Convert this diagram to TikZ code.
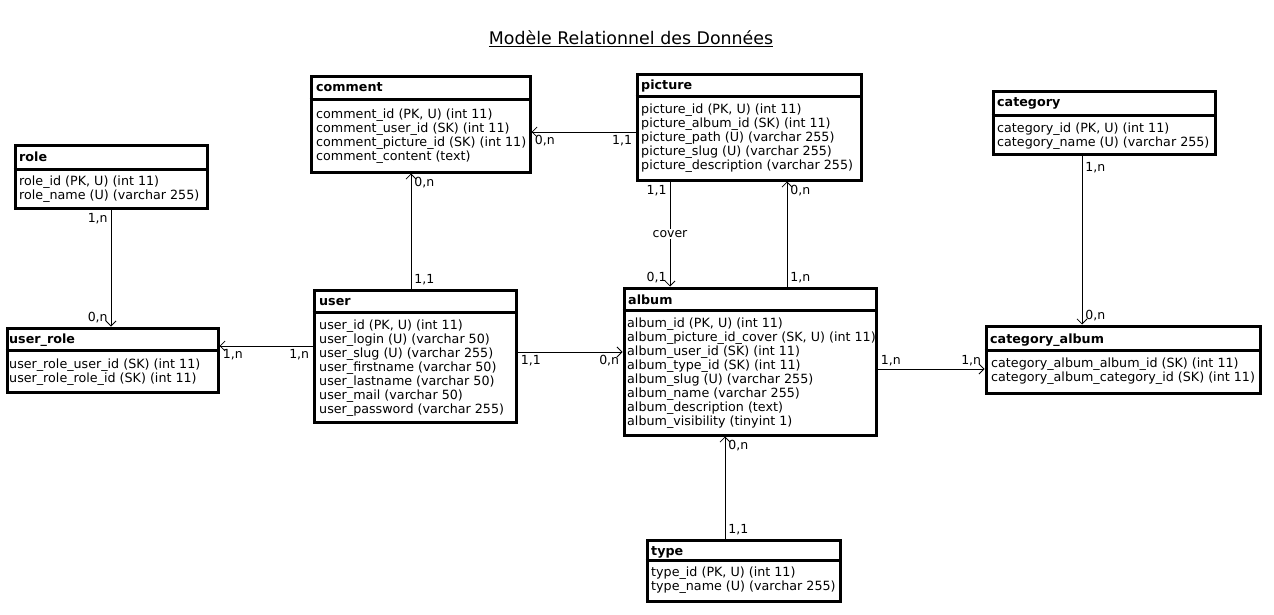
\documentclass[tikz,border=0pt]{standalone}
\usepackage{fontspec}
\setmainfont{DejaVu Sans}
\usepackage{tikz}
\usetikzlibrary{arrows.meta}
\tikzstyle{Table}=[draw,line width=3pt,inner sep=0pt]
\tikzstyle{Sep}=[line width=3pt]
\tikzstyle{Head}=[anchor=base west,inner sep=0pt,
font=\fontsize{12.7}{14}\selectfont\bfseries]
\tikzstyle{Body}=[anchor=north west,inner sep=0pt,align=left,
font=\fontsize{12.7}{14}\selectfont]
\tikzstyle{Link}=[draw,line width=.8pt,-{Straight Barb[length=5pt,width=10pt]}]
\tikzstyle{Card}=[inner sep=3pt,font=\fontsize{12.5}{14}\selectfont]
\tikzstyle{Title}=[font=\fontsize{17.4}{20}\selectfont]

\begin{document}
\begin{tikzpicture}[x=1pt,y=-1pt]
    \useasboundingbox(0,0)rectangle(1274,615);
    \node[Title](title)at(631,39){\underline{Modèle Relationnel des Données}};
    % comment
    \node[Table,minimum width=219pt,minimum height=95pt](comment)at(420.5,124.5){};
    \draw[Sep](comment.west|-0,100)--(comment.east|-0,100);
    \node[Head](commentH)at(316,92){comment};
    \node[Body](commentB)at(316,109){comment\_id (PK, U) (int 11)\\
        comment\_user\_id (SK) (int 11)\\comment\_picture\_id (SK) (int 11)\\
        comment\_content (text)};
    % picture
    \node[Table,minimum width=224pt,minimum height=105pt](picture)at(749,127.5){};
    \draw[Sep](picture.west|-0,97)--(picture.east|-0,97);
    \node[Head](pictureH)at(641,90){picture};
    \node[Body](pictureB)at(641,104){picture\_id (PK, U) (int 11)\\
        picture\_album\_id (SK) (int 11)\\picture\_path (U) (varchar 255)\\
        picture\_slug (U) (varchar 255)\\picture\_description (varchar 255)};
    % category
    \node[Table,minimum width=222pt,minimum height=62pt](category)at(1104,123){};
    \draw[Sep](category.west|-0,116)--(category.east|-0,116);
    \node[Head](categoryH)at(997,107){category};
    \node[Body](categoryB)at(997,123){category\_id (PK, U) (int 11)\\
        category\_name (U) (varchar 255)};
    % role
    \node[Table,minimum width=192pt,minimum height=62pt](role)at(111,177){};
    \draw[Sep](role.west|-0,169)--(role.east|-0,169);
    \node[Head](roleH)at(19,161){role};
    \node[Body](roleB)at(19,176){role\_id (PK, U) (int 11)\\
        role\_name (U) (varchar 255)};
    % user_role
    \node[Table,minimum width=211pt,minimum height=64pt](userrole)at(112.5,360){};
    \draw[Sep](userrole.west|-0,350)--(userrole.east|-0,350);
    \node[Head](userroleH)at(9,343){user\_role};
    \node[Body](userroleB)at(9,359){user\_role\_user\_id (SK) (int 11)\\
        user\_role\_role\_id (SK) (int 11)};
    % user
    \node[Table,minimum width=202pt,minimum height=132pt](user)at(415,356){};
    \draw[Sep](user.west|-0,312)--(user.east|-0,312);
    \node[Head](userH)at(319,305){user};
    \node[Body](userB)at(319,320){user\_id (PK, U) (int 11)\\
        user\_login (U) (varchar 50)\\user\_slug (U) (varchar 255)\\
        user\_firstname (varchar 50)\\user\_lastname (varchar 50)\\
        user\_mail (varchar 50)\\user\_password (varchar 255)};
    % album
    \node[Table,minimum width=252pt,minimum height=147pt](album)at(750,361.5){};
    \draw[Sep](album.west|-0,310)--(album.east|-0,310);
    \node[Head](albumH)at(628,304){album};
    \node[Body](albumB)at(627,318){album\_id (PK, U) (int 11)\\
        album\_picture\_id\_cover (SK, U) (int 11)\\album\_user\_id (SK) (int 11)\\
        album\_type\_id (SK) (int 11)\\album\_slug (U) (varchar 255)\\
        album\_name (varchar 255)\\album\_description (text)\\
        album\_visibility (tinyint 1)};
    % category_album
    \node[Table,minimum width=274pt,minimum height=67pt](catalbum)at(1123,359.5){};
    \draw[Sep](catalbum.west|-0,350)--(catalbum.east|-0,350);
    \node[Head](catalbumH)at(990,343){category\_album};
    \node[Body](catalbumB)at(991,358){category\_album\_album\_id (SK) (int 11)\\
        category\_album\_category\_id (SK) (int 11)};
    % type
    \node[Table,minimum width=193pt,minimum height=61pt](type)at(743.5,570.5){};
    \draw[Sep](type.west|-0,560)--(type.east|-0,560);
    \node[Head](typeH)at(651,555){type};
    \node[Body](typeB)at(651,567){type\_id (PK, U) (int 11)\\
        type\_name (U) (varchar 255)};
    % links
    \draw[Link](picture.west|-0,132)--(comment.east|-0,132)
        node[Card,at start,anchor=north east]{1,1}
        node[Card,at end,anchor=north west]{0,n};
    \draw[Link](411,0|-user.north)--(411,0|-comment.south)
        node[Card,at start,anchor=south west]{1,1}
        node[Card,at end,anchor=north west]{0,n};
    \draw[Link](111,0|-role.south)--(111,0|-userrole.north)
        node[Card,at start,anchor=north east]{1,n}
        node[Card,at end,anchor=south east]{0,n};
    \draw[Link](user.west|-0,346)--(userrole.east|-0,346)
        node[Card,at start,anchor=north east]{1,n}
        node[Card,at end,anchor=north west]{1,n};
    \draw[Link](user.east|-0,352)--(album.west|-0,352)
        node[Card,at start,anchor=north west]{1,1}
        node[Card,at end,anchor=north east]{0,n};
    \draw[Link](670,0|-picture.south)--(670,0|-album.north)
        node[Card,at start,anchor=north east]{1,1}
        node[Card,midway,fill=white,inner sep=1pt]{cover}
        node[Card,at end,anchor=south east]{0,1};
    \draw[Link](787,0|-album.north)--(787,0|-picture.south)
        node[Card,at start,anchor=south west]{1,n}
        node[Card,at end,anchor=north west]{0,n};
    \draw[Link](1082,0|-category.south)--(1082,0|-catalbum.north)
        node[Card,at start,anchor=north west,yshift=-3pt]{1,n}
        node[Card,at end,anchor=south west]{0,n};
    \draw[Link](album.east|-0,369)--(catalbum.west|-0,369)
        node[Card,at start,anchor=south west]{1,n}
        node[Card,at end,anchor=south east]{1,n};
    \draw[Link](725,0|-type.north)--(725,0|-album.south)
        node[Card,at start,anchor=south west]{1,1}
        node[Card,at end,anchor=north west]{0,n};
\end{tikzpicture}
\end{document}
